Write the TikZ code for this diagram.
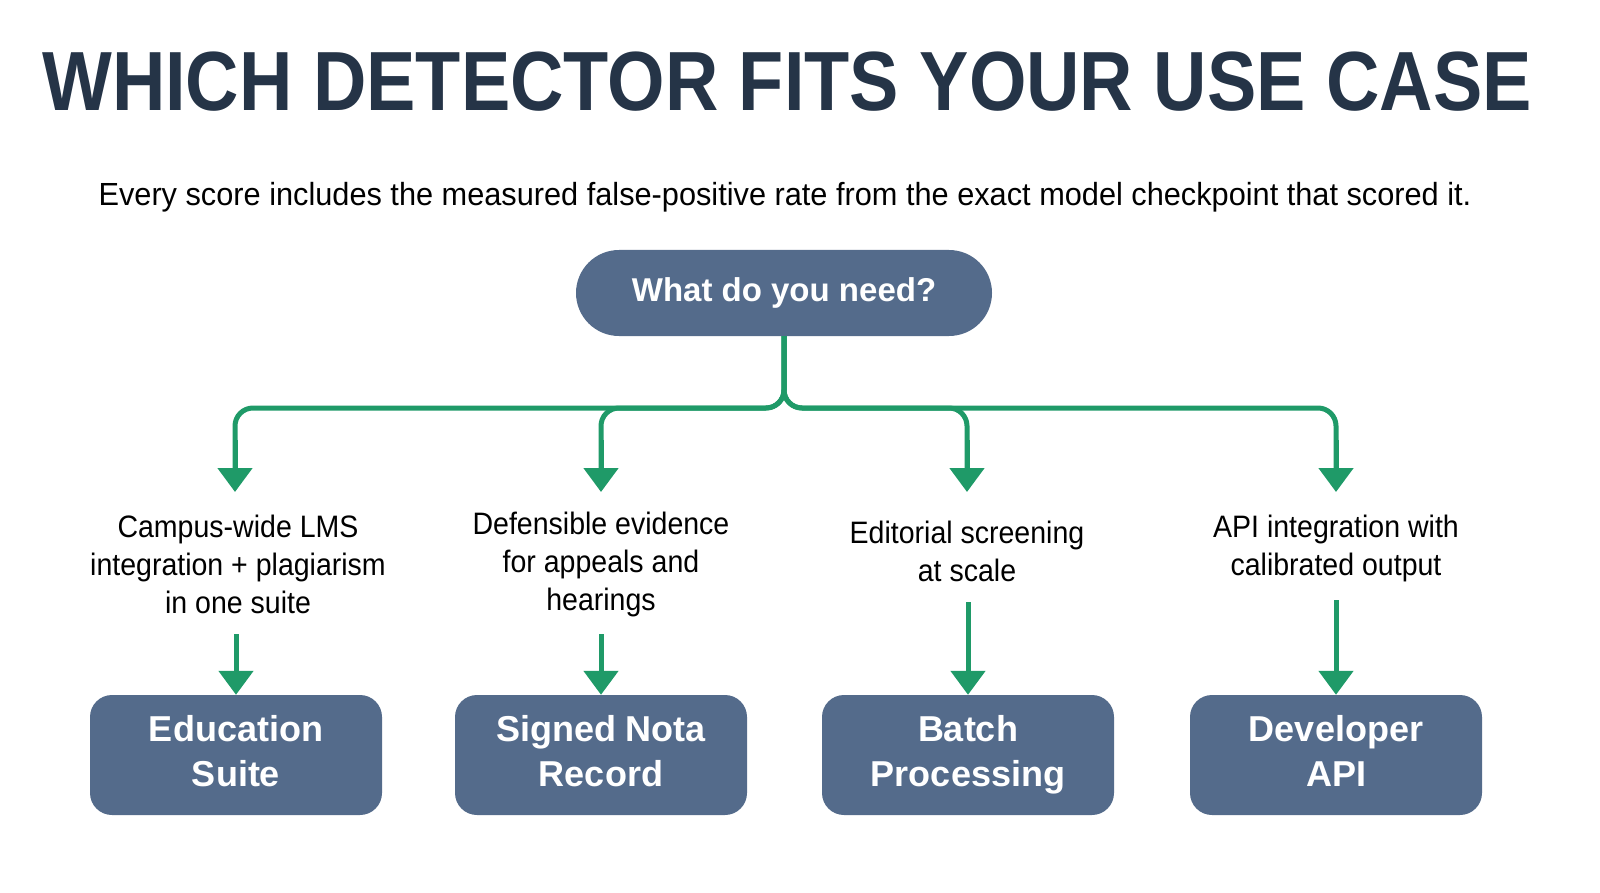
\documentclass[tikz,border=0pt]{standalone}
\usepackage{fontspec}
\setmainfont{Liberation Sans}
\usetikzlibrary{arrows.meta}
\definecolor{navy}{HTML}{253447}
\definecolor{slate}{HTML}{546B8B}
\definecolor{grn}{HTML}{1F9A68}
\begin{document}
\begin{tikzpicture}[x=1pt,y=-1pt,
  box/.style={fill=slate,rounded corners=22pt,text=white,font=\bfseries\fontsize{36}{45}\selectfont,align=center,minimum width=292pt,minimum height=120pt,inner sep=0pt},
  lbl/.style={font=\fontsize{31}{38}\selectfont,align=center,text=black},
  conn/.style={draw=grn,line width=5pt,rounded corners=18pt},
  arr/.style={draw=grn,line width=5pt,-{Triangle[length=24pt,width=34pt]}}]
\useasboundingbox (0,0) rectangle (1600,893);
\node[text=navy,font=\bfseries\fontsize{84}{90}\selectfont] (title) at (787,82) {\scalebox{0.88}[1]{WHICH DETECTOR FITS YOUR USE CASE}};
\node[font=\fontsize{32}{36}\selectfont] (sub) at (785,197) {\scalebox{0.96}[1]{Every score includes the measured false-positive rate from the exact model checkpoint that scored it.}};
\node[fill=slate,rounded corners=43pt,minimum width=416pt,minimum height=86pt,text=white,font=\bfseries\fontsize{33}{40}\selectfont] (q) at (784,293) {What do you need?};
\coordinate (j) at (784,408);
\foreach \n/\x in {a/235,b/601,c/967,d/1336}{
  \coordinate (t\n) at (\x,492);
  \draw[conn] (q.south) -- (j) -| (\x,470);
  \draw[arr] (\x,440) -- (t\n);
}
\node[lbl] (la) at (238,564) {\scalebox{0.92}[1]{Campus-wide LMS}\\\scalebox{0.92}[1]{integration + plagiarism}\\\scalebox{0.92}[1]{in one suite}};
\node[lbl] (lb) at (601,564) {\scalebox{0.92}[1]{Defensible evidence}\\\scalebox{0.92}[1]{for appeals and}\\\scalebox{0.92}[1]{hearings}};
\node[lbl] (lc) at (967,551) {\scalebox{0.92}[1]{Editorial screening}\\\scalebox{0.92}[1]{at scale}};
\node[lbl] (ld) at (1336,548) {\scalebox{0.92}[1]{API integration with}\\\scalebox{0.92}[1]{calibrated output}};
\node[box] (ba) at (236,755) {Education\\Suite\vphantom{g}};
\node[box] (bb) at (601,755) {Signed Nota\\Record\vphantom{g}};
\node[box] (bc) at (968,755) {Batch\\Processing};
\node[box] (bd) at (1336,755) {Developer\\API\vphantom{g}};
\draw[arr] (236,634) -- (ba.north);
\draw[arr] (601,634) -- (bb.north);
\draw[arr] (968,602) -- (bc.north);
\draw[arr] (1336,600) -- (bd.north);
\end{tikzpicture}
\end{document}
